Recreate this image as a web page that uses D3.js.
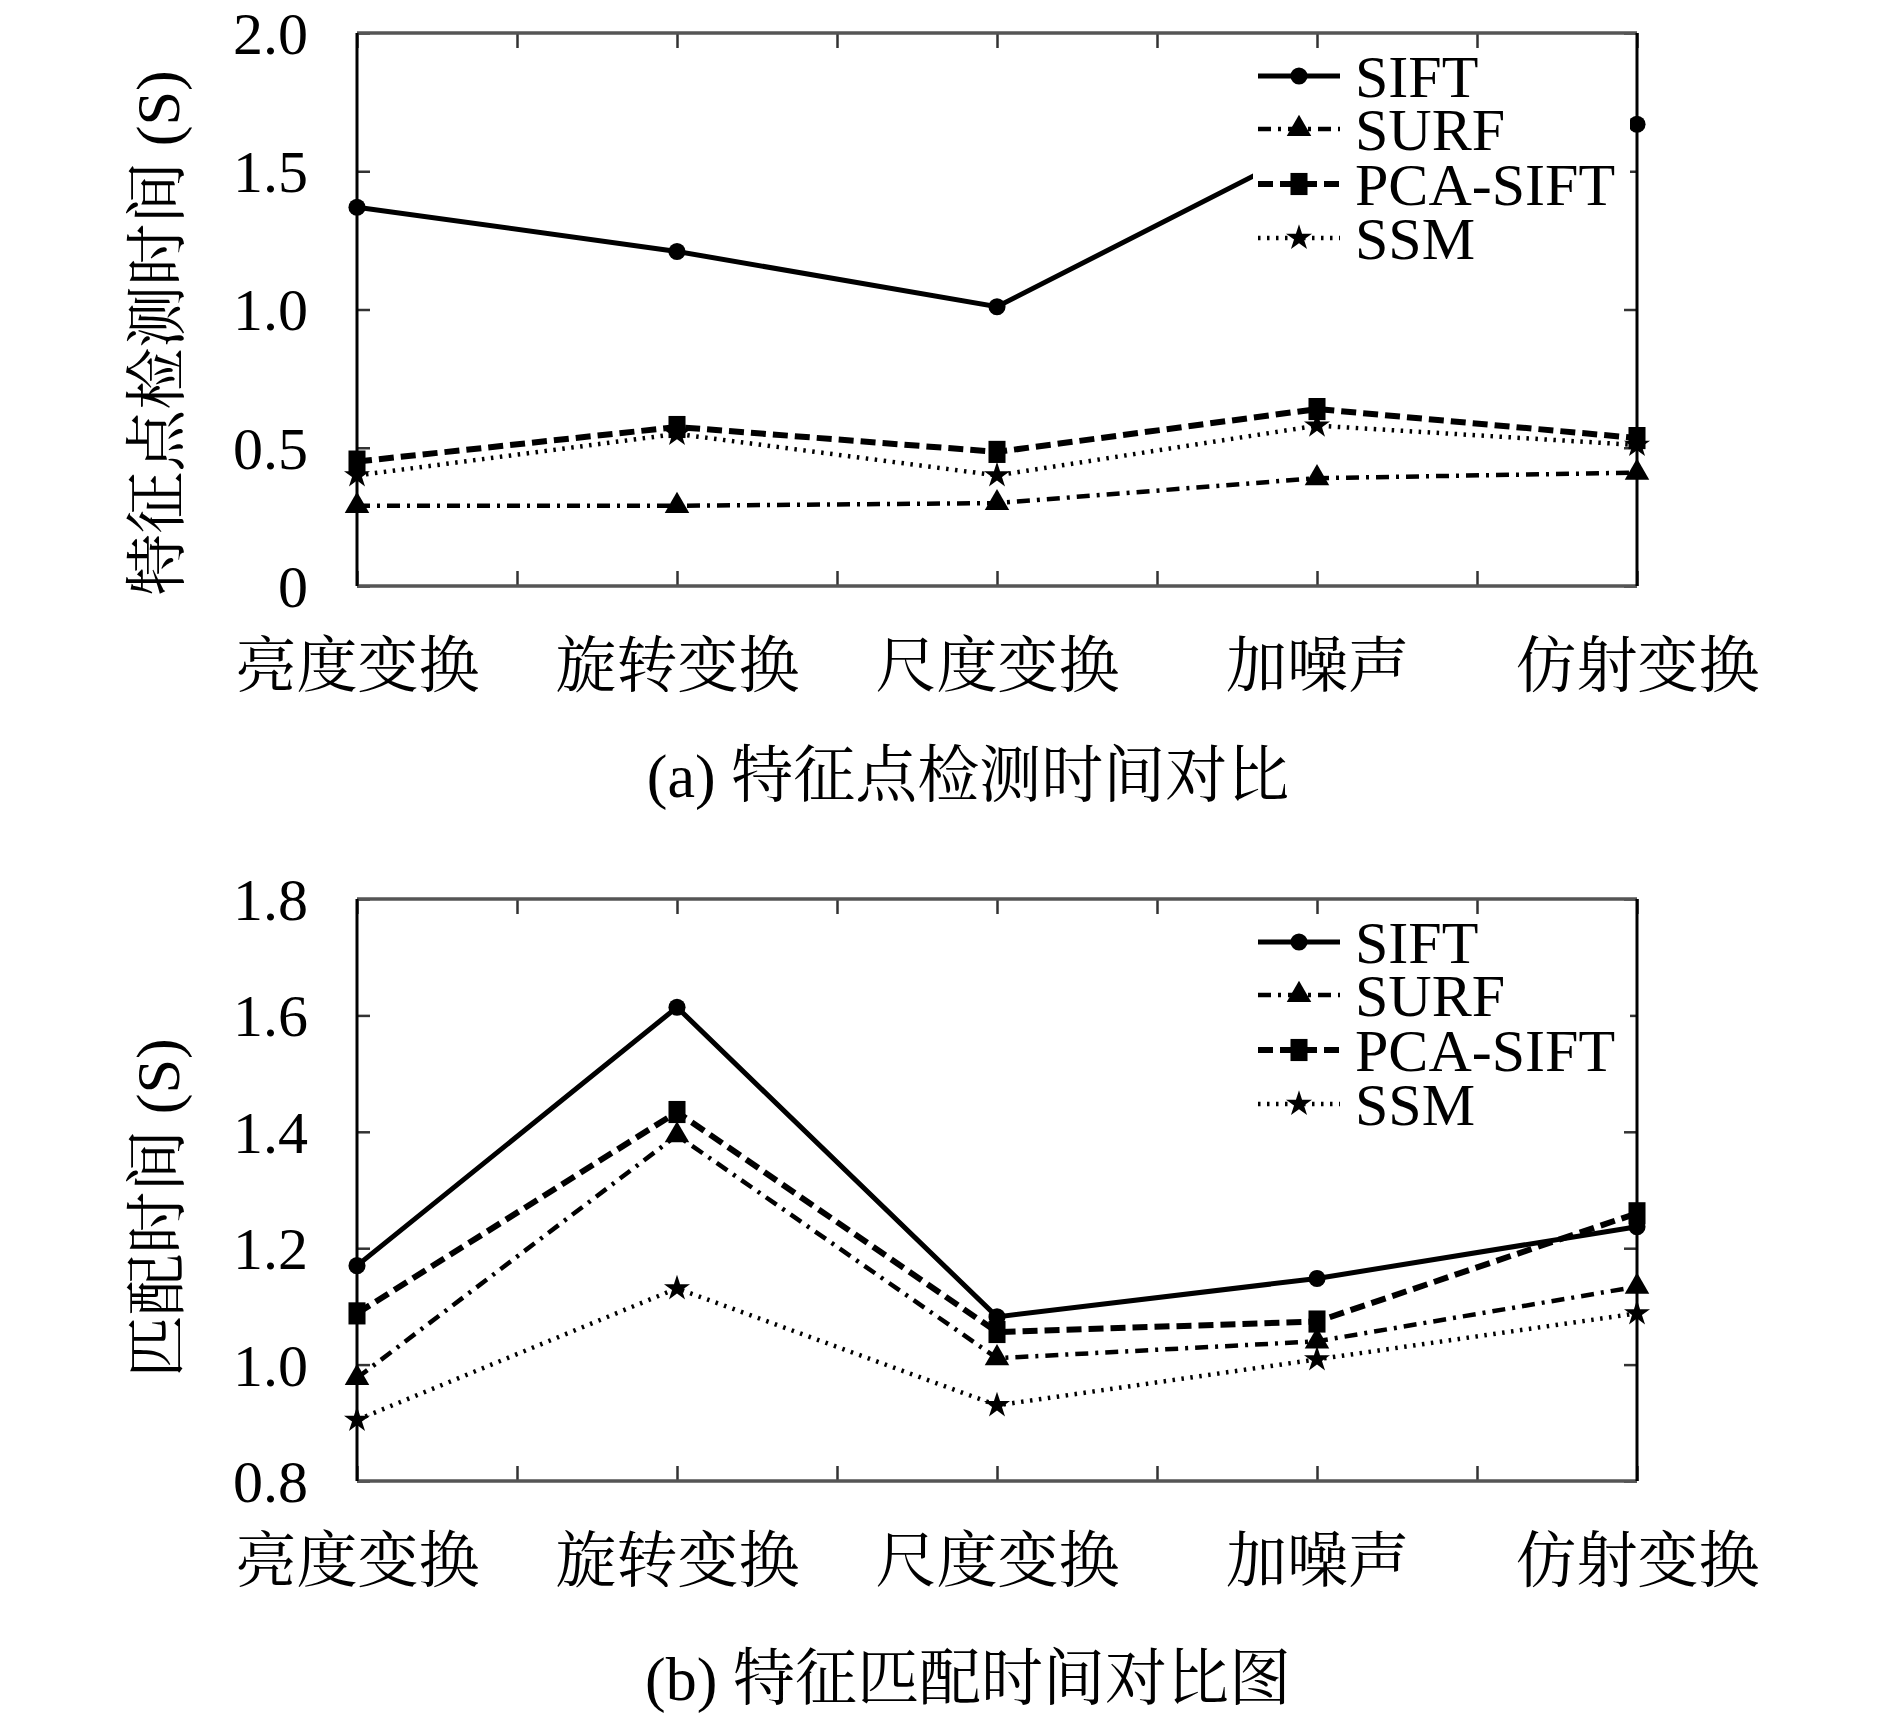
<!DOCTYPE html>
<html>
<head>
<meta charset="utf-8">
<script src="https://cdn.jsdelivr.net/npm/d3@7"></script>
<style>
  body { margin: 0; background: #fff; }
  svg { display: block; }
</style>
</head>
<body>
<div class="graph"></div>
<script>
const categories = ["亮度变换", "旋转变换", "尺度变换", "加噪声", "仿射变换"];
const seriesNames = ["SIFT", "SURF", "PCA-SIFT", "SSM"];

// (a) feature point detection time (s)
const detectSIFT = [1.37, 1.21, 1.01, 1.60, 1.67];
const detectSURF = [0.29, 0.29, 0.30, 0.39, 0.41];
const detectPCA = [0.45, 0.575, 0.485, 0.64, 0.535];
const detectSSM = [0.40, 0.55, 0.40, 0.58, 0.51];
const detectTicks = [0, 0.5, 1.0, 1.5, 2.0];
const detectTickLabels = ["0", "0.5", "1.0", "1.5", "2.0"];

// (b) feature matching time (s)
const matchSIFT = [1.17, 1.614, 1.082, 1.148, 1.237];
const matchSURF = [0.977, 1.394, 1.011, 1.04, 1.134];
const matchPCA = [1.088, 1.434, 1.056, 1.074, 1.26];
const matchSSM = [0.905, 1.131, 0.93, 1.009, 1.088];
const matchTicks = [0.8, 1.0, 1.2, 1.4, 1.6, 1.8];
const matchTickLabels = ["0.8", "1.0", "1.2", "1.4", "1.6", "1.8"];

const width = 1890;
const height = 1713;
const left = 357, right = 1637;
const serif = "'Liberation Serif', 'Times New Roman', 'Noto Serif CJK SC', 'Noto Sans CJK SC', serif";
const cjk = "'Noto Serif CJK SC', 'Noto Sans CJK SC', serif";

const styles = {
  "SIFT": { dash: null, width: 5, symbol: d3.symbolCircle, size: 230 },
  "SURF": { dash: "13,7,3,7", width: 4.5, symbol: d3.symbolTriangle, size: 260 },
  "PCA-SIFT": { dash: "15,7", width: 6, symbol: d3.symbolSquare, size: 290 },
  "SSM": { dash: "2.5,6.5", width: 4.5, symbol: d3.symbolStar, size: 210 },
};

const svg = d3.select(".graph")
  .append("svg")
  .attr("width", width)
  .attr("height", height)
  .attr("viewBox", [0, 0, width, height])
  .attr("font-family", serif);

const drawPanel = (top, bottom, domain, ticks, tickLabels, series, yTitle, titleY, caption, captionY) => {
  const g = svg.append("g");
  const x = d3.scaleLinear().domain([0, categories.length - 1]).range([left, right]);
  const y = d3.scaleLinear().domain(domain).range([bottom, top]);
  const halfSteps = d3.range(0, categories.length - 0.99, 0.5);

  // inward ticks on all four sides
  const axL = g.append("g").attr("transform", `translate(${left},0)`)
    .call(d3.axisLeft(y).tickValues(ticks).tickSizeInner(-13).tickSizeOuter(0).tickPadding(49)
      .tickFormat((d, i) => tickLabels[i]));
  axL.attr("font-family", serif);
  axL.selectAll("text").attr("font-size", 60).attr("fill", "#000").attr("dy", "0.34em");
  g.append("g").attr("transform", `translate(${right},0)`)
    .call(d3.axisRight(y).tickValues(ticks).tickSizeInner(-13).tickSizeOuter(0).tickFormat(""));
  const axB = g.append("g").attr("transform", `translate(0,${bottom})`)
    .call(d3.axisBottom(x).tickValues(halfSteps).tickSizeInner(-15).tickSizeOuter(0)
      .tickFormat((d) => (Number.isInteger(d) ? categories[d] : "")));
  axB.attr("font-family", cjk);
  axB.selectAll("text")
    .attr("y", 79).attr("dy", "0.36em")
    .attr("font-size", 61).attr("fill", "#000");
  g.append("g").attr("transform", `translate(0,${top})`)
    .call(d3.axisTop(x).tickValues(halfSteps).tickSizeInner(-15).tickSizeOuter(0).tickFormat(""));
  g.selectAll(".domain").remove();
  g.selectAll(".tick line").attr("stroke", "#333").attr("stroke-width", 2.5);

  // frame
  g.append("line").attr("x1", left).attr("x2", right).attr("y1", top).attr("y2", top)
    .attr("stroke", "#555").attr("stroke-width", 3.5);
  g.append("line").attr("x1", left).attr("x2", right).attr("y1", bottom).attr("y2", bottom)
    .attr("stroke", "#555").attr("stroke-width", 3.5);
  g.append("line").attr("x1", left).attr("x2", left).attr("y1", top).attr("y2", bottom)
    .attr("stroke", "#000").attr("stroke-width", 3);
  g.append("line").attr("x1", right).attr("x2", right).attr("y1", top).attr("y2", bottom)
    .attr("stroke", "#000").attr("stroke-width", 3);

  const line = d3.line().x((d, i) => x(i)).y((d) => y(d));

  series.forEach(({ name, values }) => {
    const s = styles[name];
    g.append("path")
      .datum(values)
      .attr("fill", "none")
      .attr("stroke", "#000")
      .attr("stroke-width", s.width)
      .attr("stroke-dasharray", s.dash)
      .attr("d", line);
    g.append("g").selectAll("path")
      .data(values)
      .join("path")
      .attr("transform", (d, i) => `translate(${x(i)},${y(d)})` + (name === "PCA-SIFT" ? " scale(1,1.3)" : ""))
      .attr("d", d3.symbol().type(s.symbol).size(s.size))
      .attr("fill", "#000");
  });

  // legend with white box
  const lg = g.append("g");
  lg.append("rect")
    .attr("x", 1253).attr("y", top + 17)
    .attr("width", 377).attr("height", 215)
    .attr("fill", "#fff");
  const rows = [43, 96, 151, 205];
  series.forEach(({ name }, i) => {
    const s = styles[name];
    const cy = top + rows[i];
    lg.append("line")
      .attr("x1", 1258).attr("x2", 1340).attr("y1", cy).attr("y2", cy)
      .attr("stroke", "#000").attr("stroke-width", s.width)
      .attr("stroke-dasharray", s.dash);
    lg.append("path")
      .attr("transform", `translate(1299,${cy})` + (name === "PCA-SIFT" ? " scale(1,1.3)" : ""))
      .attr("d", d3.symbol().type(s.symbol).size(s.size))
      .attr("fill", "#000");
    lg.append("text")
      .attr("x", 1355).attr("y", cy).attr("dy", "0.35em")
      .attr("font-size", 60)
      .text(name);
  });

  // y title
  g.append("text")
    .attr("transform", `translate(157,${titleY}) rotate(-90)`)
    .attr("text-anchor", "middle")
    .attr("dy", "0.36em")
    .attr("font-size", 62)
    .text(yTitle);

  // caption
  g.append("text")
    .attr("x", 968).attr("y", captionY)
    .attr("text-anchor", "middle")
    .attr("dy", "0.36em")
    .attr("font-size", 62)
    .text(caption);
};

const toSeries = (arrays) => seriesNames.map((name, i) => ({ name, values: arrays[i] }));

drawPanel(33, 586, [0, 2], detectTicks, detectTickLabels,
  toSeries([detectSIFT, detectSURF, detectPCA, detectSSM]),
  "特征点检测时间 (S)", 333, "(a) 特征点检测时间对比", 775);

drawPanel(899, 1481, [0.8, 1.8], matchTicks, matchTickLabels,
  toSeries([matchSIFT, matchSURF, matchPCA, matchSSM]),
  "匹配时间 (S)", 1208, "(b) 特征匹配时间对比图", 1678);
</script>
</body>
</html>
